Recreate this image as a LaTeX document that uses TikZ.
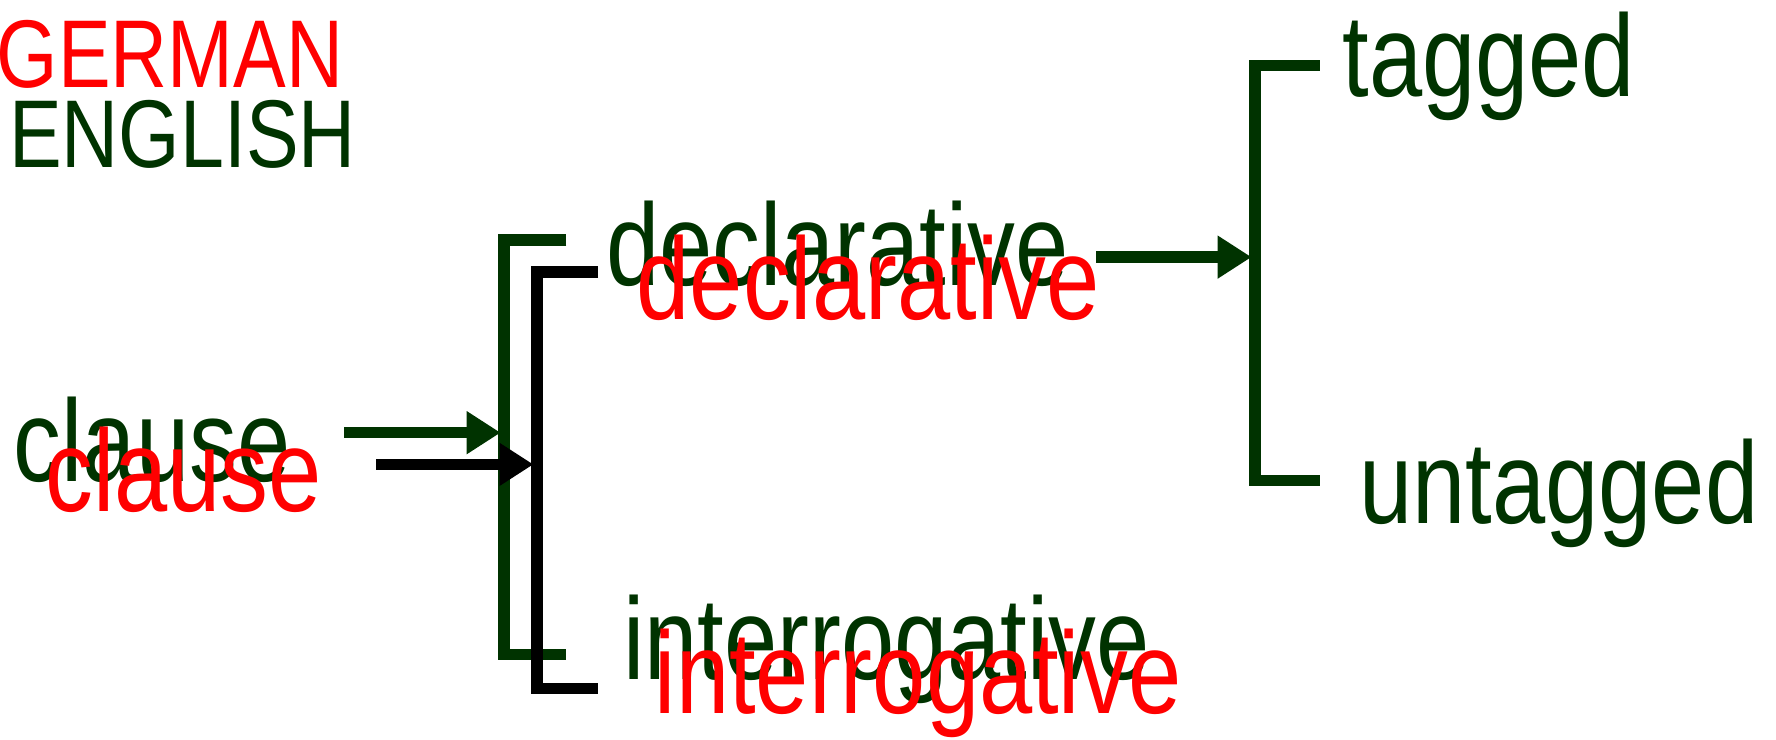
\documentclass[tikz,border=0pt]{standalone}
\usepackage{fontspec}
\setmainfont{Liberation Sans}[FakeStretch=0.82]
\usetikzlibrary{arrows.meta}
\definecolor{eggreen}{RGB}{0,51,0}
\definecolor{egred}{RGB}{255,0,0}
\tikzset{
  lbl/.style={anchor=base west, inner sep=0pt, font=\fontsize{103}{110}\selectfont},
  capslbl/.style={anchor=base west, inner sep=0pt, font=\fontsize{85}{95}\selectfont},
  grn/.style={text=eggreen},
  rd/.style={text=egred},
  brk/.style={line width=10pt, line join=miter},
  arr/.style={line width=10pt, -{Triangle[length=30pt,width=36pt]}},
}
\begin{document}
\begin{tikzpicture}[x=1pt,y=-1pt]
\useasboundingbox (0,0) rectangle (1568,652.5);
% legend
\node[capslbl,rd] (german) at (-3,77) {GERMAN};
\node[capslbl,grn] (english) at (8,148) {ENGLISH};
% English (green) labels
\node[lbl,grn] (clauseG) at (12,425) {clause};
\node[lbl,grn] (declG) at (535,252) {declarative};
\node[lbl,grn] (interG) at (550,600) {interrogative};
\node[lbl,grn] (tagged) at (1185,85) {tagged};
\node[lbl,grn] (untagged) at (1200,462) {untagged};
% German (red) labels
\node[lbl,rd] (clauseR) at (40,452) {clause};
\node[lbl,rd] (declR) at (562,282) {declarative};
\node[lbl,rd] (interR) at (578,630) {interrogative};
% coordinates
\coordinate (gA) at (304,382);
\coordinate (gT) at (442,382);
\coordinate (bA) at (332,410);
\coordinate (bT) at (471,410);
\coordinate (rA) at (968,227);
\coordinate (rT) at (1105,227);
% green bracket (English)
\draw[brk,eggreen] (500,212) -- (445,212) -- (445,578) -- (500,578);
% black bracket (German)
\draw[brk,black] (528,240) -- (474,240) -- (474,608) -- (528,608);
% right bracket
\draw[brk,eggreen] (1165,58) -- (1108,58) -- (1108,424) -- (1165,424);
% arrows
\draw[arr,eggreen] (gA) -- (gT);
\draw[arr,black] (bA) -- (bT);
\draw[arr,eggreen] (rA) -- (rT);
\end{tikzpicture}
\end{document}
